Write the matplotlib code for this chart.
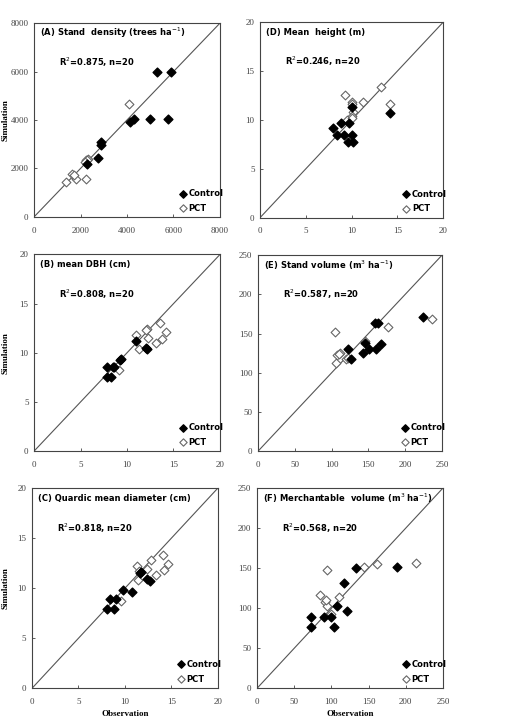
import numpy as np
import matplotlib.pyplot as plt

# (A) stand density
a_ctrl_x = [5300, 5900, 5000, 5780, 4300, 4120, 2870, 2870, 2770, 2270]
a_ctrl_y = [6000, 6000, 4050, 4050, 4050, 3920, 3090, 2950, 2450, 2200]
a_pct_x = [4100, 2330, 2230, 2240, 1800, 1620, 1700, 1390, 2300, 2200]
a_pct_y = [4650, 2400, 2330, 1580, 1580, 1790, 1720, 1440, 2350, 2250]

# (D) mean height
d_ctrl_x = [8.0, 8.8, 9.7, 8.4, 9.2, 10.0, 9.6, 10.2, 10.0, 14.2]
d_ctrl_y = [9.2, 9.7, 9.7, 8.5, 8.5, 8.5, 7.7, 7.7, 11.3, 10.7]
d_pct_x = [9.3, 13.2, 14.2, 10.1, 10.1, 11.2, 10.2, 10.1, 9.5, 10.0]
d_pct_y = [12.6, 13.4, 11.6, 11.8, 11.6, 11.8, 10.8, 10.4, 10.0, 10.2]

# (B) mean DBH
b_ctrl_x = [7.9, 8.6, 7.9, 8.3, 9.3, 9.4, 11.0, 12.1, 12.0, 8.5]
b_ctrl_y = [8.6, 8.6, 7.5, 7.5, 9.3, 9.4, 11.2, 10.4, 10.5, 8.6]
b_pct_x = [11.0, 12.1, 12.3, 11.3, 9.1, 13.6, 14.2, 13.8, 13.1, 12.0]
b_pct_y = [11.8, 12.4, 11.5, 10.4, 8.3, 13.0, 12.1, 11.4, 11.0, 12.3]

# (E) stand volume
e_ctrl_x = [224, 159, 163, 122, 126, 146, 151, 143, 160, 167]
e_ctrl_y = [171, 164, 164, 130, 118, 138, 130, 125, 130, 137]
e_pct_x = [236, 177, 104, 112, 107, 106, 120, 146, 110, 122]
e_pct_y = [169, 159, 152, 125, 123, 113, 118, 140, 124, 119]

# (C) quadratic mean diameter
c_ctrl_x = [8.1, 8.8, 8.4, 9.0, 9.8, 10.8, 11.7, 12.4, 12.7, 11.6]
c_ctrl_y = [7.9, 7.9, 8.9, 8.9, 9.8, 9.6, 11.6, 10.9, 10.7, 11.5]
c_pct_x = [9.6, 11.3, 11.5, 12.4, 12.8, 11.4, 13.3, 14.1, 14.6, 14.2]
c_pct_y = [8.7, 12.2, 11.7, 11.9, 12.8, 10.8, 11.3, 13.3, 12.4, 11.8]

# (F) merchantable volume
f_ctrl_x = [72, 72, 90, 99, 104, 108, 121, 117, 133, 188]
f_ctrl_y = [89, 76, 89, 89, 76, 103, 96, 131, 150, 152]
f_pct_x = [94, 144, 161, 214, 85, 91, 94, 110, 99, 93]
f_pct_y = [148, 151, 155, 157, 117, 108, 103, 114, 93, 110]

panels = [
    ("(A) Stand  density (trees ha$^{-1}$)", "R$^2$=0.875, n=20", 8000, 2000, a_ctrl_x, a_ctrl_y, a_pct_x, a_pct_y),
    ("(D) Mean  height (m)", "R$^2$=0.246, n=20", 20, 5, d_ctrl_x, d_ctrl_y, d_pct_x, d_pct_y),
    ("(B) mean DBH (cm)", "R$^2$=0.808, n=20", 20, 5, b_ctrl_x, b_ctrl_y, b_pct_x, b_pct_y),
    ("(E) Stand volume (m$^3$ ha$^{-1}$)", "R$^2$=0.587, n=20", 250, 50, e_ctrl_x, e_ctrl_y, e_pct_x, e_pct_y),
    ("(C) Quardic mean diameter (cm)", "R$^2$=0.818, n=20", 20, 5, c_ctrl_x, c_ctrl_y, c_pct_x, c_pct_y),
    ("(F) Merchantable  volume (m$^3$ ha$^{-1}$)", "R$^2$=0.568, n=20", 250, 50, f_ctrl_x, f_ctrl_y, f_pct_x, f_pct_y),
]

# axes boxes in figure fractions [left, bottom, width, height]
boxes = [
    [0.067, 0.700, 0.366, 0.268],
    [0.512, 0.699, 0.360, 0.270],
    [0.067, 0.376, 0.366, 0.272],
    [0.508, 0.376, 0.362, 0.271],
    [0.063, 0.048, 0.366, 0.277],
    [0.506, 0.048, 0.366, 0.277],
]

txt_font = ['Liberation Sans Narrow', 'DejaVu Sans']

fig = plt.figure(figsize=(5.08, 7.23), dpi=100)

for i, (title, r2, lim, step, cx, cy, px, py) in enumerate(panels):
    ax = fig.add_axes(boxes[i])
    ax.plot([0, lim], [0, lim], color='#555555', lw=0.8, zorder=1)
    ax.scatter(px, py, marker='D', s=20, facecolor='white', edgecolor='#666666', linewidth=0.8, zorder=2)
    ax.scatter(cx, cy, marker='D', s=20, color='black', zorder=3)
    ax.set_xlim(0, lim)
    ax.set_ylim(0, lim)
    ticks = np.arange(0, lim + step, step)
    ax.set_xticks(ticks)
    ax.set_yticks(ticks)
    ax.tick_params(direction='in', length=2, width=0.6, labelsize=6.5, colors='#444444')
    ax.tick_params(axis='y', pad=4)
    ax.tick_params(axis='x', pad=7)
    for lab in ax.get_xticklabels() + ax.get_yticklabels():
        lab.set_family('Liberation Serif')
    for s in ax.spines.values():
        s.set_linewidth(0.8)
        s.set_color('#444444')
    ax.text(0.03, 0.95, title, transform=ax.transAxes, fontsize=6, fontweight='bold', family=txt_font, va='center', ha='left')
    ax.text(0.135, 0.80, r2, transform=ax.transAxes, fontsize=6, fontweight='bold', family=txt_font, va='center', ha='left')
    ax.scatter([0.80], [0.12], marker='D', s=14, color='black', transform=ax.transAxes)
    ax.text(0.83, 0.12, 'Control', transform=ax.transAxes, fontsize=6, fontweight='bold', family=txt_font, va='center', ha='left')
    ax.scatter([0.80], [0.045], marker='D', s=14, facecolor='white', edgecolor='#666666', linewidth=0.8, transform=ax.transAxes)
    ax.text(0.83, 0.045, 'PCT', transform=ax.transAxes, fontsize=6, fontweight='bold', family=txt_font, va='center', ha='left')
    if i % 2 == 0:
        ax.set_ylabel('Simulation', fontsize=6.5, fontweight='bold', family='Liberation Serif')
        ax.yaxis.set_label_coords((10 - boxes[i][0] * 508) / (boxes[i][2] * 508), 0.5)
    if i >= 4:
        ax.set_xlabel('Observation', fontsize=6.5, fontweight='bold', family='Liberation Serif', labelpad=3)

fig.savefig('out.png', dpi=100)
